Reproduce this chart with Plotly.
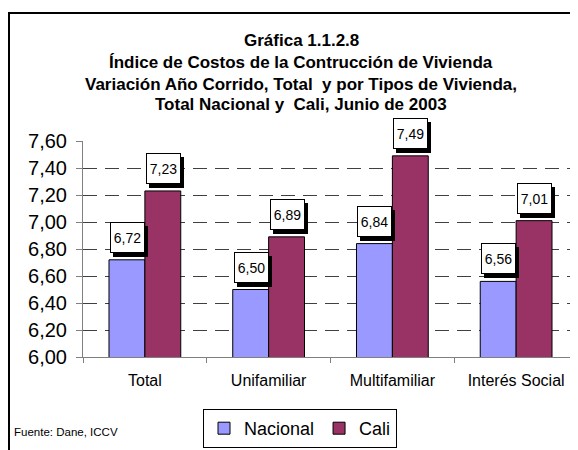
import plotly.graph_objects as go

categories = ["Total", "Unifamiliar", "Multifamiliar", "Interés Social"]
nacional = [6.72, 6.50, 6.84, 6.56]
cali = [7.23, 6.89, 7.49, 7.01]
series_names = ["Nacional", "Cali"]
title_lines = [
    "Gráfica 1.1.2.8",
    "Índice de Costos de la Contrucción de Vivienda",
    "Variación Año Corrido, Total&nbsp; y por Tipos de Vivienda,",
    "Total Nacional y&nbsp; Cali, Junio de 2003",
]
y_ticks = [6.0, 6.2, 6.4, 6.6, 6.8, 7.0, 7.2, 7.4, 7.6]
source_text = "Fuente: Dane, ICCV"

FONT = "Liberation Sans, Arial, sans-serif"
# page body has an 8px margin: figure is offset by (8, 8) in the window
OX, OY = 8, 8
W, H = 578 - OX, 450 - OY + 8
# plot area in window pixels: x 83..578, y 141..357
L = 83 - OX
T = 141 - OY
R = 0
B = H - (357 - OY)
pw = W - L - R
ph = H - T - B


def px_x(x):
    return (x - OX - L) / pw


def px_y(y):
    return (357 - y) / ph


fig = go.Figure()
colors = ["#9999FF", "#993366"]
for name, vals, col in zip(series_names, [nacional, cali], colors):
    fig.add_trace(go.Bar(
        x=categories, y=vals, name=name,
        marker=dict(color=col, line=dict(color="black", width=1)),
    ))

cat_w = pw / len(categories)
bargap = 0.42
bar_w = cat_w * (1 - bargap) / 2

annotations = []
for i, vals in enumerate([nacional, cali]):
    off = (i - 0.5) * bar_w
    for c, v in zip(categories, vals):
        txt = f"{v:.2f}".replace(".", ",")
        # drop shadow box
        annotations.append(dict(
            x=c, y=v, xref="x", yref="y", text="&nbsp;", showarrow=False,
            xshift=off + 3.5, yshift=3, yanchor="bottom",
            font=dict(family=FONT, size=14, color="black"),
            bgcolor="black", bordercolor="black", borderwidth=1,
            width=31, height=27, borderpad=1,
        ))
        annotations.append(dict(
            x=c, y=v, xref="x", yref="y", text=txt, showarrow=False,
            xshift=off + 0.5, yshift=7, yanchor="bottom",
            font=dict(family=FONT, size=14, color="black"),
            bgcolor="white", bordercolor="black", borderwidth=1,
            width=31, height=27, borderpad=1,
        ))

title_y = [40, 62, 84, 105]
for line, yy in zip(title_lines, title_y):
    annotations.append(dict(
        x=px_x(301), y=px_y(yy), xref="paper", yref="paper",
        xanchor="center", yanchor="middle", showarrow=False,
        text=f"<b>{line}</b>",
        font=dict(family=FONT, size=17, color="black"),
    ))

annotations.append(dict(
    x=px_x(12), y=px_y(432), xref="paper", yref="paper",
    xanchor="left", yanchor="middle", showarrow=False, text=source_text,
    font=dict(family=FONT, size=11.5, color="black"),
))

shapes = [dict(
    type="rect", xref="paper", yref="paper",
    x0=px_x(9), x1=1.05, y0=-0.6, y1=px_y(13),
    line=dict(color="black", width=2), fillcolor="rgba(0,0,0,0)", layer="below",
)]

fig.update_layout(
    width=W, height=H,
    margin=dict(l=L, r=R, t=T, b=B, autoexpand=False),
    paper_bgcolor="white", plot_bgcolor="white",
    barmode="group", bargap=bargap, bargroupgap=0,
    separators=",.",
    font=dict(family=FONT, color="black"),
    showlegend=True,
    legend=dict(
        orientation="h", x=px_x(300), xanchor="center",
        y=px_y(448), yanchor="bottom",
        bordercolor="black", borderwidth=1, bgcolor="white",
        font=dict(family=FONT, size=18, color="black"),
        itemwidth=30, traceorder="normal",
    ),
    annotations=annotations,
    shapes=shapes,
    xaxis=dict(
        type="category", showline=True, linecolor="#808080", linewidth=1,
        ticks="outside", tickson="boundaries", ticklen=5, tickcolor="#808080",
        tickfont=dict(family=FONT, size=16, color="black"),
        ticklabelstandoff=9,
        showgrid=False, range=[-0.5, 3.5],
    ),
    yaxis=dict(
        range=[6.0, 7.6], tickvals=y_ticks, tickformat=".2f",
        showline=True, linecolor="#808080", linewidth=1,
        ticks="outside", ticklen=6, tickcolor="#808080",
        tickfont=dict(family=FONT, size=20, color="black"),
        ticklabelstandoff=5,
        showgrid=True, gridcolor="#404040", gridwidth=1, griddash="14px,8px",
        zeroline=False,
    ),
)

fig.write_html("out.html")
